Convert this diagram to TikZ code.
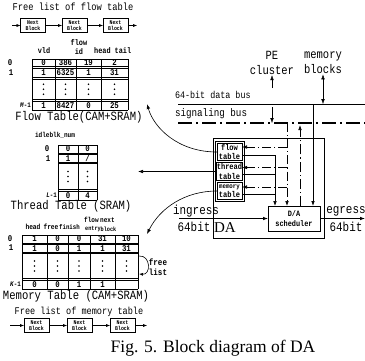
\documentclass[tikz,border=0pt]{standalone}
\usepackage{fontspec}
\setmainfont{Liberation Serif}
\newfontfamily\monof[FakeStretch=0.84]{Liberation Mono}
\usetikzlibrary{arrows.meta}
\begin{document}
\begin{tikzpicture}[x=1pt,y=-1pt,
  every node/.style={inner sep=0pt,outer sep=0pt},
  mt/.style={font=\monof\fontsize{#1}{#1}\selectfont},
  bt/.style={font=\monof\bfseries\fontsize{#1}{#1}\selectfont},
  nextbox/.style={draw,line width=0.6pt,minimum width=25pt,minimum height=14pt,align=center,
    font=\monof\bfseries\fontsize{5.8}{6.2}\selectfont},
  tab/.style={line width=0.7pt},
  arr/.style={-{Latex[length=5pt,width=3.6pt]}},
  sarr/.style={-{Latex[length=4pt,width=3pt]}},
  dashdot/.style={dash pattern=on 9pt off 3pt on 1.2pt off 3pt},
  sigdash/.style={dash pattern=on 14pt off 4pt on 2pt off 4pt},
  bus/.style={line width=1pt},
  inbox/.style={draw,line width=0.8pt,minimum width=25pt,minimum height=17.5pt,align=center,
    font=\monof\bfseries\fontsize{8.4}{9.2}\selectfont},
  cell/.style={bt=8.8},
  vdot/.pic={\foreach \d in {-5,0,5} \fill (0,\d) circle (0.95pt);},
]
\useasboundingbox (0,0) rectangle (365,360);

% ---------- free list of the flow table ----------
\node[mt=10.4] (fl-title) at (73,7) {Free list of flow table};
\node[nextbox] (fb1) at (33,25.5) {Next\\Block};
\node[nextbox] (fb2) at (74.5,25.5) {Next\\Block};
\node[nextbox] (fb3) at (115.5,25.5) {Next\\Block};
\coordinate (fs) at (12,25.5);
\coordinate (fe) at (137,25.5);
\draw[sarr] (fs) -- (fb1);
\draw[sarr] (fb1) -- (fb2);
\draw[sarr] (fb2) -- (fb3);
\draw[sarr] (fb3) -- (fe);

% ---------- flow table ----------
\node[bt=8.2] (fh-flow) at (79,43) {flow};
\node[bt=8.2] (fh-vld) at (44,51) {vld};
\node[bt=8.2] (fh-id) at (79,52) {id};
\node[bt=8.2] (fh-head) at (102.5,51) {head};
\node[bt=8.2] (fh-tail) at (123,51) {tail};
\foreach \x in {32,55,76,101,128} \draw[tab] (\x,59) -- (\x,110);
\foreach \y in {59,66.5,68,77.5,79,99.5,101,110} \draw[tab] (32,\y) -- (128,\y);
\foreach \xc/\v/\n in {43.5/0/1,65.5/386/2,88.5/19/3,114.5/2/4}
  \node[cell] (fr0-\n) at (\xc,62.75) {\v};
\foreach \xc/\v/\n in {43.5/1/1,65.5/6325/2,88.5/1/3,114.5/31/4}
  \node[cell] (fr1-\n) at (\xc,72.75) {\v};
\foreach \xc in {43.5,65.5,88.5,114.5}
  \pic at (\xc,89.25) {vdot};
\foreach \xc/\v/\n in {43.5/1/1,65.5/8427/2,88.5/0/3,114.5/25/4}
  \node[cell] (frm-\n) at (\xc,105.5) {\v};
\node[bt=8.8] (fi0) at (10,62.75) {0};
\node[bt=8.8] (fi1) at (11,72.5) {1};
\node[bt=7,anchor=east] (fim) at (31,105.5) {\textit{M}-1};
\node[mt=12.6] (ft-title) at (79,117.5) {Flow Table(CAM+SRAM)};

% ---------- thread table ----------
\node[bt=7.2] (th-idle) at (55,135) {idleblk\_num};
\foreach \x in {58,78,97} \draw[tab] (\x,145) -- (\x,200);
\foreach \y in {145,153,154.5,162,163.5,189.5,191,200} \draw[tab] (58,\y) -- (97,\y);
\node[cell] (tr0-1) at (68,149) {0};
\node[cell] (tr0-2) at (87.5,149) {0};
\node[cell] (tr1-1) at (68,158.25) {1};
\node[cell] (tr1-2) at (87.5,158.25) {/};
\pic at (68,176.5) {vdot};
\pic at (87.5,176.5) {vdot};
\node[cell] (trm-1) at (68,195.5) {0};
\node[cell] (trm-2) at (87.5,195.5) {4};
\node[bt=8.8] (ti0) at (47,149) {0};
\node[bt=8.8] (ti1) at (48,158.25) {1};
\node[bt=7,anchor=east] (tim) at (57,195.5) {\textit{L}-1};
\node[mt=12.6] (tt-title) at (71,206.5) {Thread Table (SRAM)};

% ---------- memory table ----------
\node[bt=7.2] (mh-flow) at (91.5,220) {flow};
\node[bt=7.2] (mh-next) at (107.5,220) {next};
\node[bt=7.4] (mh-head) at (33,227) {head};
\node[bt=7.4] (mh-free) at (51,227) {free};
\node[bt=6.8] (mh-fin) at (69.5,227) {finish};
\node[bt=6.2] (mh-entry) at (93,229.5) {entry};
\node[bt=6.2] (mh-block) at (108.5,229.5) {block};
\foreach \x in {22,47,68,90,115,138} \draw[tab] (\x,235) -- (\x,289);
\foreach \y in {235,243,244.5,252,253.5,278.5,280,289} \draw[tab] (22,\y) -- (138,\y);
\foreach \xc/\v/\n in {34.5/1/1,57.5/0/2,79/0/3,102.5/31/4,126.5/10/5}
  \node[cell] (mr0-\n) at (\xc,239) {\v};
\foreach \xc/\v/\n in {34.5/1/1,57.5/0/2,79/1/3,102.5/1/4,126.5/31/5}
  \node[cell] (mr1-\n) at (\xc,248.25) {\v};
\foreach \xc in {34.5,57.5,79,102.5,126.5}
  \pic at (\xc,266) {vdot};
\foreach \xc/\v/\n in {34.5/0/1,57.5/0/2,79/1/3,102.5/1/4,126.5///5}
  \node[cell] (mrm-\n) at (\xc,284.5) {\v};
\node[bt=8.8] (mi0) at (10,239) {0};
\node[bt=8.8] (mi1) at (11,248) {1};
\node[bt=7,anchor=east] (mim) at (21,284.5) {\textit{K}-1};
\coordinate (ml1) at (139,256);
\coordinate (ml2) at (139,274);
\draw[sarr,line width=0.6pt] (ml1) .. controls (151,255) and (151,275) .. (ml2);
\node[align=center,font=\monof\bfseries\fontsize{9}{10}\selectfont] (fl-lbl) at (158,267) {free\\list};
\node[mt=12.6] (mt-title) at (76,296) {Memory Table (CAM+SRAM)};

% ---------- free list of the memory table ----------
\node[mt=10.2] (ml-title) at (79,312) {Free list of memory table};
\node[nextbox] (mb1) at (36.5,325.5) {Next\\Block};
\node[nextbox] (mb2) at (79.5,325.5) {Next\\Block};
\node[nextbox] (mb3) at (122.5,325.5) {Next\\Block};
\coordinate (ms) at (10,325.5);
\coordinate (me) at (147,325.5);
\draw[sarr] (ms) -- (mb1);
\draw[sarr] (mb1) -- (mb2);
\draw[sarr] (mb2) -- (mb3);
\draw[sarr] (mb3) -- (me);

% ---------- buses ----------
\node[align=center,font=\monof\fontsize{12.5}{15}\selectfont] (pe) at (272,62.5) {PE\\cluster};
\node[align=center,font=\monof\fontsize{12.5}{15}\selectfont] (memblk) at (323,62.5) {memory\\blocks};
\coordinate (dbL) at (178,104);
\coordinate (dbR) at (365,104);
\coordinate (sbL) at (178,123);
\coordinate (sbR) at (365,123);
\draw[bus] (dbL) -- (dbR);
\draw[line width=1.2pt,sigdash] (sbL) -- (sbR);
\node[mt=10,anchor=west] (db-lbl) at (175,95) {64-bit data bus};
\node[mt=11,anchor=west] (sb-lbl) at (175,114) {signaling bus};
\coordinate (pu) at (272,88);
\draw[arr] (pu) -- ([yshift=-1pt]pe.south);
\draw[{Latex[length=5pt,width=3.6pt]}-{Latex[length=5pt,width=3.6pt]}] ([yshift=-1pt]memblk.south) -- (memblk.south |- dbL);
\coordinate (pd) at (272,107);
\draw[arr] (pd) -- (pd |- sbL);

% ---------- DA block ----------
\node[draw,line width=0.8pt,minimum width=111pt,minimum height=100pt] (da) at (268.5,188) {};
\node[font=\fontsize{15}{15}\selectfont] (da-lbl) at (225,227.5) {DA};
\node[draw,line width=0.8pt,minimum width=29pt,minimum height=60pt] (tabs) at (229.5,171) {};
\node[inbox] (ft) at (229.5,152) {flow\\table};
\node[inbox] (tt) at (229.5,171.5) {thread\\table};
\node[inbox,font=\monof\bfseries\fontsize{6.8}{9.2}\selectfont] (mtb) at (229.5,191) {memory\\{\fontsize{8.4}{9.2}\selectfont table}};
\node[draw,line width=0.8pt,minimum width=52pt,minimum height=25pt,align=center,
  font=\monof\bfseries\fontsize{8.2}{10}\selectfont] (sch) at (294,218.5) {D/A\\scheduler};

% table outputs gathered into the scheduler
\coordinate (jx) at (275,0);
\coordinate (fo) at ([yshift=-3pt]ft.east);
\coordinate (to) at ([yshift=-3pt]tt.east);
\coordinate (mo) at ([yshift=-3pt]mtb.east);
\draw[arr,line width=0.6pt] (fo) -| (jx |- sch.north);
\draw[line width=0.6pt] (to) -- (to -| jx);
\draw[line width=0.6pt] (mo) -- (mo -| jx);

% signaling tap into tables and scheduler
\coordinate (stap) at (287,123);
\draw[arr,dashdot,line width=0.6pt] (stap) -- (stap |- sch.north);
\coordinate (fin) at ([yshift=5pt]ft.east);
\coordinate (tin) at ([yshift=4pt]tt.east);
\coordinate (min) at ([yshift=4pt]mtb.east);
\draw[arr,dashdot,line width=0.6pt] (fin -| stap) -- (fin);
\draw[arr,dashdot,line width=0.6pt] (tin -| stap) -- (tin);
\draw[arr,dashdot,line width=0.6pt] (min -| stap) -- (min);

% scheduler back onto the signaling bus
\coordinate (uptap) at (300,125);
\draw[arr,dash pattern=on 10pt off 3pt on 1.2pt off 3pt,line width=0.7pt] (uptap |- sch.north) -- (uptap);

% data bus into the scheduler
\coordinate (dtap) at (313,104);
\draw[arr,line width=0.8pt] (dtap) -- (dtap |- sch.north);

% ingress / egress
\coordinate (ing) at (179,218.5);
\coordinate (egr) at (365,218.5);
\draw[arr,line width=0.8pt] (ing) -- (sch.west);
\draw[arr,line width=0.8pt] (sch.east) -- (egr);
\node[mt=13] (ing-lbl) at (196,211) {ingress};
\node[mt=13] (ing-w) at (194,227) {64bit};
\node[mt=13] (egr-lbl) at (346,211) {egress};
\node[mt=13] (egr-w) at (346,227) {64bit};

% links from the DA tables to the table layouts
\coordinate (fte) at (147,104);
\coordinate (tte) at (138,171.5);
\coordinate (mte) at (147,234);
\draw[arr,line width=0.6pt] (ft.west) .. controls (178,152) and (154,128) .. (fte);
\draw[arr,line width=0.6pt] (tt.west) -- (tte);
\draw[arr,line width=0.6pt] (mtb.west) .. controls (185,191) and (160,208) .. (mte);

% ---------- caption ----------
\node[font=\fontsize{17.5}{17.5}\selectfont] (cap) at (213,348) {Fig. 5. Block diagram of DA};
\end{tikzpicture}
\end{document}
